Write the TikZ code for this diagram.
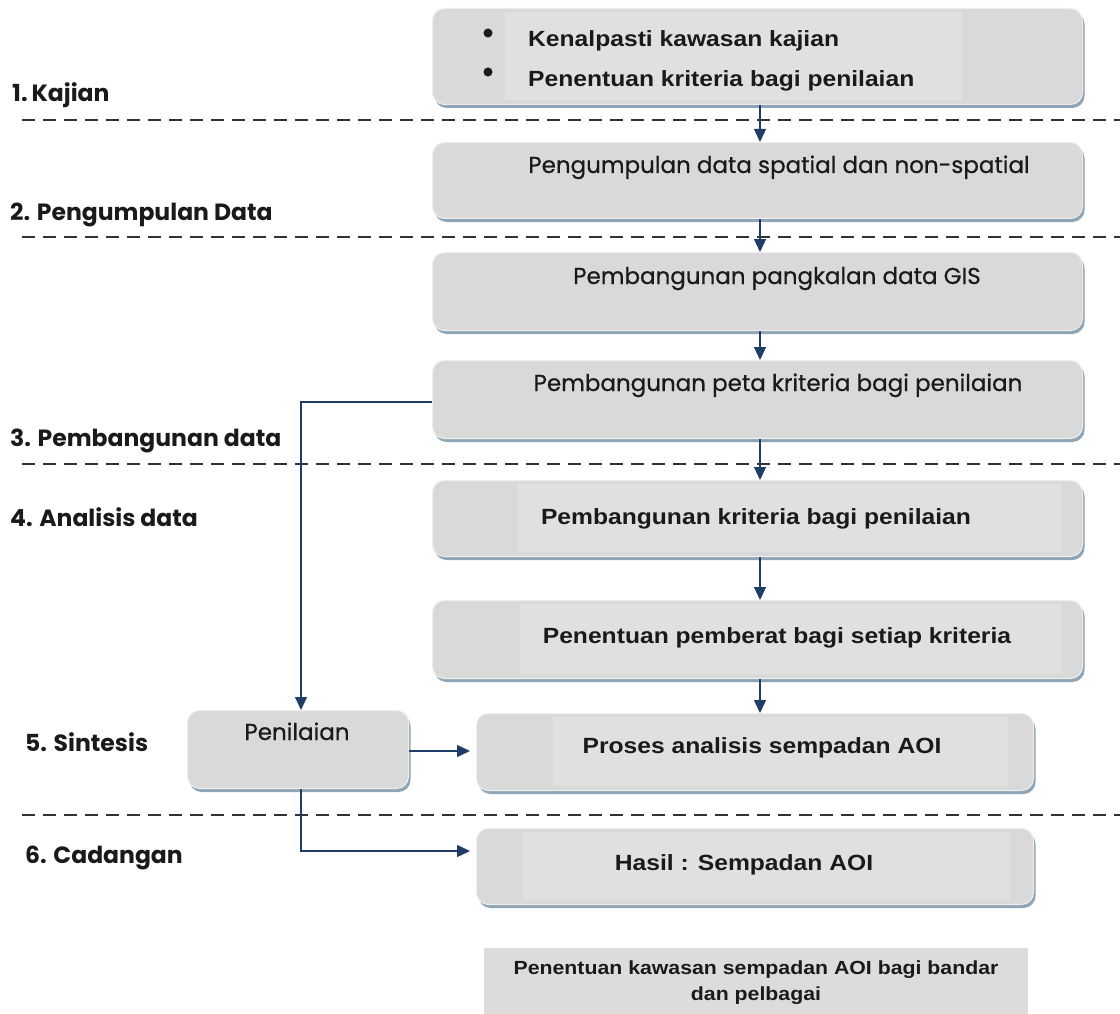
\documentclass[tikz,border=0pt]{standalone}
\usepackage{fontspec}
\setmainfont{Poppins}
\newfontfamily\arialfont[FakeStretch=1.12]{Liberation Sans}
\newfontfamily\gothfont[FakeBold=0.6]{Poppins}
\usetikzlibrary{arrows.meta,shadows}
\definecolor{boxgray}{HTML}{D9D9D9}
\definecolor{innergray}{HTML}{E0E0E1}
\definecolor{boxedge}{HTML}{EDEDED}
\definecolor{shadowblue}{HTML}{8FA5B6}
\definecolor{arrowblue}{HTML}{1F3D66}
\definecolor{captiongray}{HTML}{DCDCDD}
\definecolor{txt}{HTML}{1A1A1A}
\begin{document}
\begin{tikzpicture}[x=1pt,y=-1pt,
  box/.style={rounded corners=12pt, fill=boxgray, draw=boxedge, line width=1pt,
    anchor=north west, inner sep=0pt,
    drop shadow={shadow xshift=2pt, shadow yshift=-3.5pt, fill=shadowblue, opacity=1}},
  inner/.style={fill=innergray, draw=none, anchor=north west, inner sep=0pt},
  gtext/.style={font=\gothfont\fontsize{23}{26}\selectfont, text=txt, anchor=base, inner sep=0pt},
  atext/.style={font=\arialfont\bfseries\fontsize{22}{26}\selectfont, text=txt, anchor=base, inner sep=0pt},
  lab/.style={font=\bfseries\fontsize{23.5}{26}\selectfont, text=txt, anchor=base west, inner sep=0pt},
  sep/.style={dashed, dash pattern=on 13pt off 8pt, line width=1.6pt, draw=black!80},
  arr/.style={draw=arrowblue, line width=1.3pt, -{Triangle[length=13pt,width=12pt]}},
  ln/.style={draw=arrowblue, line width=1.3pt}
]
\useasboundingbox (0,0) rectangle (1120,1014);

% separators
\coordinate (s1a) at (22,120); \coordinate (s1b) at (1120,120);
\coordinate (s2a) at (22,237); \coordinate (s2b) at (1120,237);
\coordinate (s3a) at (22,464); \coordinate (s3b) at (1120,464);
\coordinate (s4a) at (22,815); \coordinate (s4b) at (1120,815);
\draw[sep] (s1a) -- (s1b);
\draw[sep] (s2a) -- (s2b);
\draw[sep] (s3a) -- (s3b);
\draw[sep] (s4a) -- (s4b);

% left labels
\node[lab] (l1) at (12,102) {1.\,Kajian};
\node[lab] (l2) at (10,220) {2. Pengumpulan Data};
\node[lab] (l3) at (10,446) {3. Pembangunan data};
\node[lab] (l4) at (10,526) {4. Analisis data};
\node[lab] (l5) at (25,751) {5. Sintesis};
\node[lab] (l6) at (25,863) {6. Cadangan};

% boxes
\node[box, minimum width=650pt, minimum height=96pt] (b1) at (432,8) {};
\node[inner, minimum width=457pt, minimum height=88pt] (b1i) at (505,12) {};
\node[box, minimum width=650pt, minimum height=76pt] (b2) at (432,142) {};
\node[box, minimum width=650pt, minimum height=78pt] (b3) at (432,252) {};
\node[box, minimum width=650pt, minimum height=78pt] (b4) at (432,360) {};
\node[box, minimum width=650pt, minimum height=76pt] (b5) at (432,480) {};
\node[inner, minimum width=544pt, minimum height=68pt] (b5i) at (518,484) {};
\node[box, minimum width=650pt, minimum height=78pt] (b6) at (432,600) {};
\node[inner, minimum width=542pt, minimum height=70pt] (b6i) at (520,604) {};
\node[box, minimum width=221pt, minimum height=78pt] (pen) at (187,710) {};
\node[box, minimum width=557pt, minimum height=77pt] (pro) at (476,713) {};
\node[inner, minimum width=455pt, minimum height=69pt] (proi) at (553,717) {};
\node[box, minimum width=557pt, minimum height=76pt] (has) at (476,828) {};
\node[inner, minimum width=487pt, minimum height=68pt] (hasi) at (523,832) {};
\node[fill=captiongray, anchor=north west, inner sep=0pt, minimum width=544pt, minimum height=66pt] (cap) at (484,948) {};

% texts
\fill[txt] (488,33) circle (4.5pt);
\fill[txt] (488,72) circle (4.5pt);
\node[atext, anchor=base west] (t1a) at (528,47) {Kenalpasti kawasan kajian};
\node[atext, anchor=base west] (t1b) at (528,87) {Penentuan kriteria bagi penilaian};
\node[gtext] (t2) at (779,173) {Pengumpulan data spatial dan non-spatial};
\node[gtext] (t3) at (777,284) {Pembangunan pangkalan data GIS};
\node[gtext] (t4) at (778,391) {Pembangunan peta kriteria bagi penilaian};
\node[atext] (t5) at (756,524) {Pembangunan kriteria bagi penilaian};
\node[atext] (t6) at (777,643) {Penentuan pemberat bagi setiap kriteria};
\node[gtext] (tpen) at (297,740) {Penilaian};
\node[atext] (tpro) at (762,753) {Proses analisis sempadan AOI};
\node[atext] (thas) at (744,870) {Hasil : Sempadan AOI};
\node[font=\arialfont\bfseries\fontsize{19}{26}\selectfont, text=txt, align=center, inner sep=0pt] (tcap) at (756,983) {Penentuan kawasan sempadan AOI bagi bandar\\dan pelbagai};

% connectors
\draw[arr] (b1.south -| 760,0) -- (b2.north -| 760,0);
\draw[arr] (b2.south -| 760,0) -- (b3.north -| 760,0);
\draw[arr] (b3.south -| 760,0) -- (b4.north -| 760,0);
\draw[arr] (b4.south -| 760,0) -- (b5.north -| 760,0);
\draw[arr] (b5.south -| 760,0) -- (b6.north -| 760,0);
\draw[arr] (b6.south -| 760,0) -- (pro.north -| 760,0);
\coordinate (c1) at (301,402);
\draw[arr] (b4.west |- c1) -- (c1) -- (pen.north -| c1);
\draw[arr] (pen.east |- 0,751) -- ([xshift=-6pt]pro.west |- 0,751);
\coordinate (c2) at (301,851);
\draw[arr] (pen.south -| c2) -- (c2) -- ([xshift=-6pt]has.west |- c2);
\end{tikzpicture}
\end{document}
